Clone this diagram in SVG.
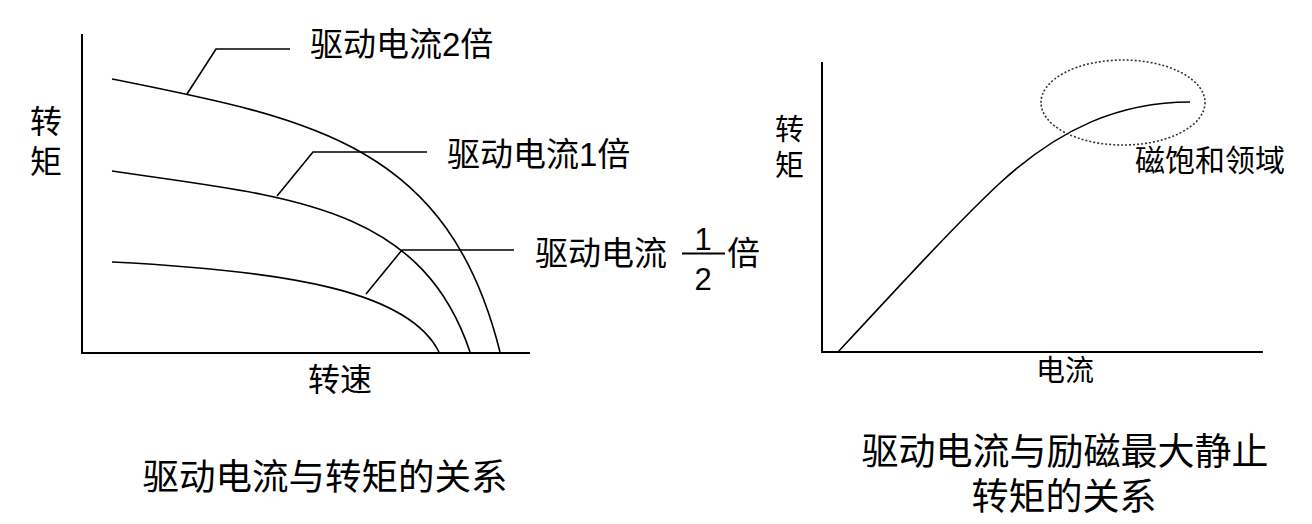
<svg xmlns="http://www.w3.org/2000/svg" width="1312" height="524" viewBox="0 0 1312 524">
<style>
.ax{stroke:#000;stroke-width:2;fill:none}
.cv{stroke:#000;stroke-width:1.6;fill:none}
.ld{stroke:#000;stroke-width:1.6;fill:none}
.t{font-family:"Liberation Sans","Noto Sans CJK SC",sans-serif;fill:#000}
</style>
<rect width="1312" height="524" fill="#fff"/>
<g id="left-chart">
<g id="left-axes">
<path class="ax" d="M82,34 V353 H530"/>
</g>
<g id="curve-2x"><path class="cv" d="M112,79 C312,119 448,144 500,352"/></g>
<g id="curve-1x"><path class="cv" d="M112,171 C282,196.5 420,202 470,352"/></g>
<g id="curve-half"><path class="cv" d="M112,262 C292,271 409,292 439,352"/></g>
<g id="connectors">
<path class="ld" d="M187,94 L216,49 H290"/>
<path class="ld" d="M277,196 L313,152 H427"/>
<path class="ld" d="M366,294 L402,250 H514"/>
</g>
<g id="label-2x"><text class="t" x="310" y="56" font-size="33">驱动电流2倍</text></g>
<g id="label-1x"><text class="t" x="447" y="166" font-size="33">驱动电流1倍</text></g>
<g id="label-half">
<text class="t" x="535" y="265" font-size="33">驱动电流</text>
<line x1="682" y1="253.5" x2="725" y2="253.5" stroke="#000" stroke-width="2"/>
<text class="t" x="703" y="250" font-size="31" text-anchor="middle">1</text>
<text class="t" x="703" y="290" font-size="31" text-anchor="middle">2</text>
<text class="t" x="727" y="265" font-size="33">倍</text>
</g>
<g id="left-ylabel">
<text class="t" font-size="32"><tspan x="30" y="133">转</tspan><tspan x="30" y="173">矩</tspan></text>
</g>
<g id="left-xlabel"><text class="t" x="340" y="391" font-size="32" text-anchor="middle">转速</text></g>
<g id="left-caption"><text class="t" x="325" y="490" font-size="36.5" text-anchor="middle">驱动电流与转矩的关系</text></g>
</g>
<g id="right-chart">
<g id="right-axes"><path class="ax" d="M822,62 V352 H1263"/></g>
<g id="curve-sat"><path class="cv" d="M838,352 C900,285 960,220 1000,183 C1060,128 1120,102 1190,102"/></g>
<g id="saturation-ellipse"><ellipse cx="1123" cy="102.5" rx="82" ry="42.5" fill="none" stroke="#333" stroke-width="1.6" stroke-dasharray="2,2"/></g>
<g id="label-sat"><text class="t" x="1135" y="171" font-size="30">磁饱和领域</text></g>
<g id="right-ylabel">
<text class="t" font-size="29"><tspan x="775" y="140">转</tspan><tspan x="775" y="176">矩</tspan></text>
</g>
<g id="right-xlabel"><text class="t" x="1065" y="381" font-size="29" text-anchor="middle">电流</text></g>
<g id="right-caption">
<text class="t" font-size="37" text-anchor="middle"><tspan x="1065" y="465">驱动电流与励磁最大静止</tspan><tspan x="1064" y="510">转矩的关系</tspan></text>
</g>
</g>
</svg>
